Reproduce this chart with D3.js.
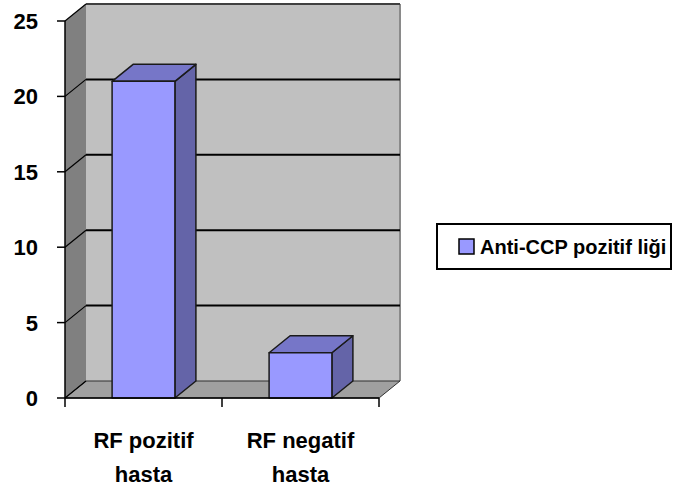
<!DOCTYPE html>
<html lang="tr">
<head>
<meta charset="UTF-8" />
<title>Anti-CCP pozitifliği</title>
<script src="https://cdnjs.cloudflare.com/ajax/libs/d3/7.8.5/d3.min.js"></script>
<style>
  body { margin: 0; background: #fff; }
  text { font-family: "Liberation Sans", Arial, sans-serif; font-weight: bold; fill: #000; }
</style>
</head>
<body>
<svg width="674" height="496"></svg>
<script>
// data
const categories = ['RF pozitif|hasta', 'RF negatif|hasta']
const values = [21, 3]
const yTicks = [0, 5, 10, 15, 20, 25]
const seriesName = 'Anti-CCP pozitif liği'

const svg = d3.select('svg')

// front plane scales + 3d depth offset
const y = d3.scaleLinear().domain([0, 25]).range([398, 21])
const x = d3.scaleBand().domain(categories).range([65, 379])
  .paddingInner(0.6).paddingOuter(0.3)
const dx = 21, dy = -17

const line = d3.line()

// side wall (left)
svg.append('path')
  .attr('d', line([[65, y(0)], [65, y(25)], [65 + dx, y(25) + dy], [65 + dx, y(0) + dy]]) + 'Z')
  .attr('fill', '#808080')

// back wall
svg.append('rect')
  .attr('x', 65 + dx).attr('y', y(25) + dy)
  .attr('width', 379 - 65).attr('height', y(0) - y(25))
  .attr('fill', '#c0c0c0')
svg.append('line')
  .attr('x1', 379 + dx).attr('x2', 379 + dx)
  .attr('y1', y(25) + dy).attr('y2', y(0) + dy)
  .attr('stroke', '#8a8a8a').attr('stroke-width', 2)
svg.append('line')
  .attr('x1', 65 + dx).attr('x2', 379 + dx)
  .attr('y1', y(25) + dy).attr('y2', y(25) + dy)
  .attr('stroke', '#404040').attr('stroke-width', 2)

// floor
svg.append('path')
  .attr('d', line([[65, y(0)], [379, y(0)], [379 + dx, y(0) + dy], [65 + dx, y(0) + dy]]) + 'Z')
  .attr('fill', '#a0a0a0')
  .attr('stroke', '#303030').attr('stroke-width', 1)

// gridlines on back and side wall
const grid = svg.append('g').attr('fill', 'none').attr('stroke', '#000')
grid.selectAll('line.back')
  .data(yTicks.filter(d => d > 0 && d < 25))
  .enter().append('line')
  .attr('x1', 65 + dx).attr('x2', 379 + dx)
  .attr('y1', d => y(d) + dy).attr('y2', d => y(d) + dy)
  .attr('stroke-width', 2)
grid.selectAll('path.side')
  .data(yTicks)
  .enter().append('path')
  .attr('d', d => line([[65, y(d)], [65 + dx, y(d) + dy]]))
  .attr('stroke-width', 1.2)

// bars
const bars = svg.append('g').selectAll('g')
  .data(categories.map((c, i) => ({ c, v: values[i] })))
  .enter().append('g')
  .attr('stroke', '#1a1a1a').attr('stroke-width', 1.5).attr('stroke-linejoin', 'round')

bars.append('path') // side
  .attr('d', d => {
    const x1 = x(d.c) + x.bandwidth()
    return line([[x1, y(d.v)], [x1 + dx, y(d.v) + dy], [x1 + dx, y(0) + dy], [x1, y(0)]]) + 'Z'
  })
  .attr('fill', '#6464a8')
bars.append('path') // top
  .attr('d', d => {
    const x0 = x(d.c), x1 = x0 + x.bandwidth()
    return line([[x0, y(d.v)], [x0 + dx, y(d.v) + dy], [x1 + dx, y(d.v) + dy], [x1, y(d.v)]]) + 'Z'
  })
  .attr('fill', '#7676c8')
bars.append('rect') // front
  .attr('x', d => x(d.c)).attr('y', d => y(d.v))
  .attr('width', x.bandwidth()).attr('height', d => y(0) - y(d.v))
  .attr('fill', '#9999ff')

// y axis
const yAxis = svg.append('g')
yAxis.append('line')
  .attr('x1', 65).attr('x2', 65).attr('y1', y(0)).attr('y2', y(25))
  .attr('stroke', '#000').attr('stroke-width', 1.5)
yAxis.selectAll('line.tick')
  .data(yTicks).enter().append('line')
  .attr('x1', 57).attr('x2', 65)
  .attr('y1', d => y(d)).attr('y2', d => y(d))
  .attr('stroke', '#000').attr('stroke-width', 1.5)
yAxis.selectAll('text')
  .data(yTicks).enter().append('text')
  .attr('x', 38).attr('y', d => y(d) + 8)
  .attr('text-anchor', 'end')
  .style('font-size', '22px')
  .text(d => d)

// x axis
const xAxis = svg.append('g')
xAxis.append('line')
  .attr('x1', 65).attr('x2', 379).attr('y1', y(0)).attr('y2', y(0))
  .attr('stroke', '#000').attr('stroke-width', 1.5)
xAxis.selectAll('line.tick')
  .data([65, ...categories.map(c => x(c) + x.bandwidth() / 2 + x.step() / 2)])
  .enter().append('line')
  .attr('x1', d => d).attr('x2', d => d)
  .attr('y1', y(0)).attr('y2', y(0) + 9)
  .attr('stroke', '#000').attr('stroke-width', 1.5)
const xl = xAxis.selectAll('text')
  .data(categories).enter().append('text')
  .attr('text-anchor', 'middle')
  .style('font-size', '22px')
xl.append('tspan').attr('x', d => x(d) + x.bandwidth() / 2).attr('y', 448)
  .text(d => d.split('|')[0])
xl.append('tspan').attr('x', d => x(d) + x.bandwidth() / 2).attr('y', 482)
  .text(d => d.split('|')[1])

// legend
const legend = svg.append('g')
legend.append('rect')
  .attr('x', 437).attr('y', 224).attr('width', 234).attr('height', 45)
  .attr('fill', '#fff').attr('stroke', '#000').attr('stroke-width', 2)
legend.append('rect')
  .attr('x', 459).attr('y', 239).attr('width', 15).attr('height', 15)
  .attr('fill', '#9999ff').attr('stroke', '#000').attr('stroke-width', 1.5)
legend.append('text')
  .attr('x', 480).attr('y', 254)
  .style('font-size', '20px')
  .text(seriesName)
</script>
</body>
</html>
